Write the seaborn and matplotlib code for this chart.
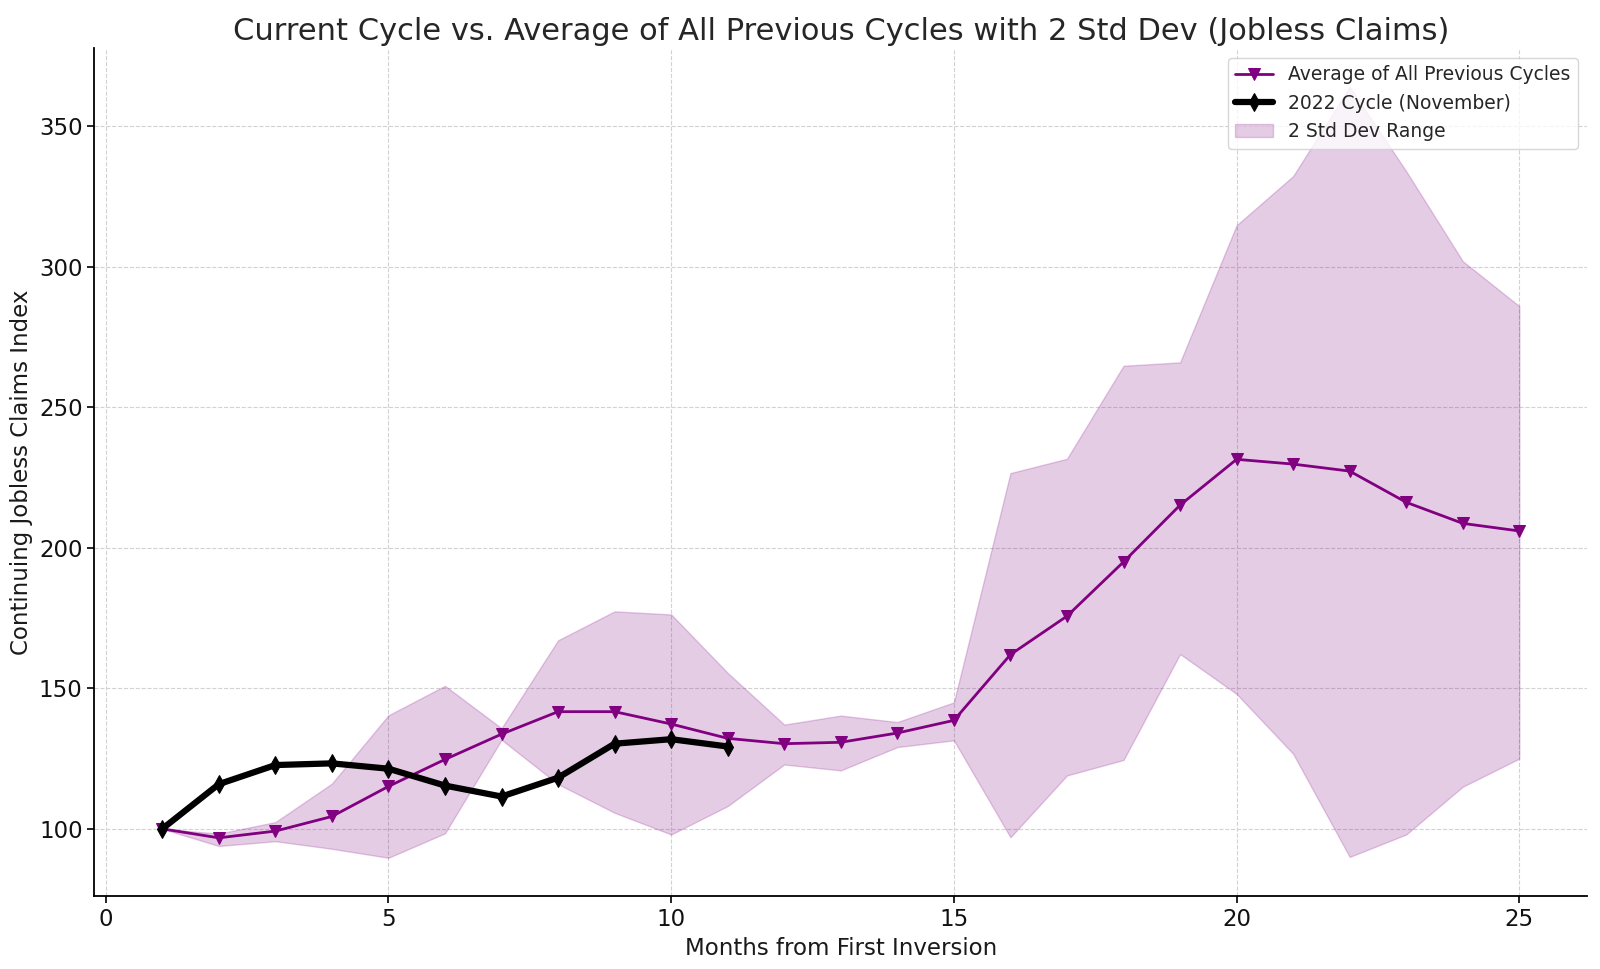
import numpy as np
import pandas as pd
import seaborn as sns
import matplotlib
matplotlib.use("Agg")
import matplotlib.pyplot as plt

# Months from first inversion
months = list(range(1, 26))

# Average of all previous cycles (index)
avg_prev = [100, 96.8, 99.2, 104.4, 115.1, 124.7, 133.7, 141.7, 141.7, 137.3,
            132.2, 130.3, 130.8, 134.1, 138.6, 162.0, 175.7, 195.0, 215.2, 231.5,
            229.8, 227.3, 216.2, 208.7, 206.0]

# Upper / lower bound of the 2 std dev range
upper_band = [100, 98.3, 102.4, 116.1, 140.4, 150.9, 135.8, 167.1, 177.4, 176.3,
              155.5, 137.1, 140.3, 138.0, 145.0, 226.6, 231.7, 264.8, 266.0, 314.8,
              332.3, 364.0, 334.0, 302.0, 286.0]
lower_band = [100, 93.9, 95.6, 92.9, 89.7, 98.4, 131.7, 115.9, 105.7, 98.0,
              108.1, 122.9, 120.8, 129.1, 131.5, 97.0, 119.0, 124.5, 162.2, 148.0,
              126.7, 90.0, 98.0, 115.0, 125.0]

# 2022 cycle (November)
months_2022 = list(range(1, 12))
cycle_2022 = [100, 115.9, 122.7, 123.3, 121.4, 115.4, 111.5, 118.2, 130.3, 131.9, 129.3]

df_prev = pd.DataFrame({"month": months, "avg": avg_prev,
                        "upper": upper_band, "lower": lower_band})
df_2022 = pd.DataFrame({"month": months_2022, "value": cycle_2022})

sns.set_style("ticks")
plt.rcParams['font.family'] = ['DejaVu Sans']

fig, ax = plt.subplots(figsize=(16, 9.69), dpi=100)
fig.subplots_adjust(left=0.059, right=0.992, top=0.95, bottom=0.075)

sns.lineplot(data=df_prev, x="month", y="avg", ax=ax, color="purple", marker="v",
             markersize=8, markeredgecolor="purple", linewidth=2,
             label="Average of All Previous Cycles")
sns.lineplot(data=df_2022, x="month", y="value", ax=ax, color="black", marker="d",
             markersize=9, markeredgecolor="black", linewidth=4.5,
             label="2022 Cycle (November)")
ax.fill_between(df_prev["month"], df_prev["lower"], df_prev["upper"],
                color="purple", alpha=0.2, label="2 Std Dev Range")

ax.set_title("Current Cycle vs. Average of All Previous Cycles with 2 Std Dev (Jobless Claims)",
             fontsize=22, color="#262626")
ax.set_xlabel("Months from First Inversion", fontsize=16.5, color="#1a1a1a")
ax.set_ylabel("Continuing Jobless Claims Index", fontsize=16.5, color="#1a1a1a")
ax.tick_params(labelsize=16.5, labelcolor="#111111", color="black", length=5, width=1.2)
for sp in ax.spines.values():
    sp.set_color("black")
    sp.set_linewidth(1.3)
ax.grid(True, linestyle="--", color="#d2d2d2", linewidth=0.8)
ax.set_xticks([0, 5, 10, 15, 20, 25])
ax.set_yticks([100, 150, 200, 250, 300, 350])
ax.legend(loc="upper right", fontsize=13.5, framealpha=0.8)
sns.despine(ax=ax)

plt.savefig("out.png", dpi=100)
